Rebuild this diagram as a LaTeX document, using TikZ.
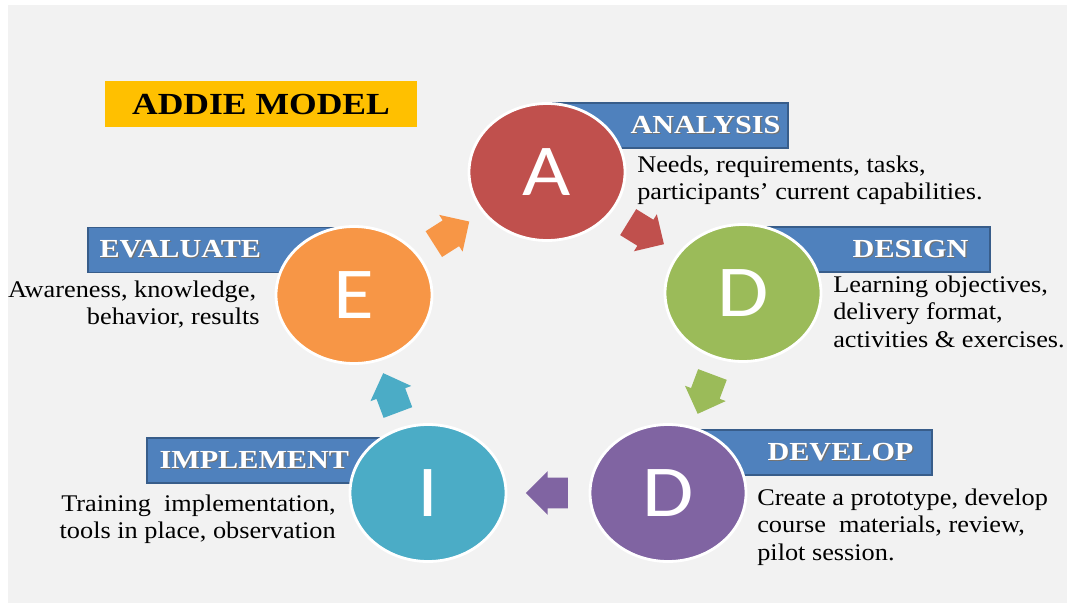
\documentclass[tikz,border=0pt]{standalone}
\usepackage{fontspec}
\setmainfont{Liberation Serif}[FakeStretch=1.10, BoldFeatures={FakeStretch=1.16}]
\newfontfamily\letterfont{Carlito}[FakeStretch=1.14]
\usetikzlibrary{shapes.geometric,shapes.arrows,calc}

\definecolor{panelgray}{HTML}{F2F2F2}
\definecolor{phaseA}{HTML}{C0504D}
\definecolor{phaseD}{HTML}{9BBB59}
\definecolor{phaseV}{HTML}{8064A2}
\definecolor{phaseI}{HTML}{4BACC6}
\definecolor{phaseE}{HTML}{F79646}
\definecolor{tagblue}{HTML}{4F81BD}
\definecolor{tagedge}{HTML}{385D8A}
\definecolor{titlegold}{HTML}{FFC000}

\def\px{*0.025cm}
\newcommand\shadowed[1]{\leavevmode\rlap{\kern0.8pt\raisebox{-0.8pt}{\color{black!55}#1}}#1}

\tikzset{
    phase/.style={ellipse, draw=white, line width=2pt, minimum width=156\px, minimum height=137\px,
        inner sep=0pt, text=white, font=\letterfont\fontsize{52}{52}\selectfont},
    tagbox/.style={fill=tagblue, draw=tagedge, line width=1pt, minimum height=45\px, inner sep=0pt},
    tagtext/.style={text=white, inner sep=0pt, font=\bfseries\fontsize{18.5}{20}\selectfont},
    desc/.style={inner sep=0pt, font=\fontsize{17}{19.6}\selectfont},
    flowarrow/.style={single arrow, minimum height=42\px, inner xsep=0pt, inner ysep=15\px,
        single arrow head extend=6.5\px, single arrow head indent=0pt}
}

\begin{document}
\begin{tikzpicture}[x=0.025cm, y=-0.025cm]
        % Sfondo
        \useasboundingbox (0,0) rectangle (1071,605);
        \fill[white] (0,0) rectangle (1071,605);
        \fill[panelgray] (8,5) rectangle (1067,603);

        % Titolo
        \node[fill=titlegold, minimum width=312\px, minimum height=46\px, inner sep=0pt,
            font=\bfseries\fontsize{21.8}{26}\selectfont] (title) at (261,104) {ADDIE MODEL};

        % Riquadri blu delle fasi (dietro ai cerchi)
        \node[tagbox, minimum width=241\px] (boxanl) at (667.5,125.5) {};
        \node[tagbox, minimum width=247\px] (boxdsg) at (866.5,249.5) {};
        \node[tagbox, minimum width=264\px] (boxdev) at (800,452.5) {};
        \node[tagbox, minimum width=281\px] (boximp) at (287.5,460.5) {};
        \node[tagbox, minimum width=266\px] (boxevl) at (221,250) {};

        % Cerchi delle fasi
        \node[phase, fill=phaseA] (anl) at (547,172) {A};
        \node[phase, fill=phaseD] (dsg) at (743,293) {D};
        \node[phase, fill=phaseV] (dev) at (668,493) {D};
        \node[phase, fill=phaseI] (imp) at (428,493) {I};
        \node[phase, fill=phaseE] (evl) at (354,295) {E};

        % Nomi delle fasi
        \node[tagtext, anchor=east] (tanl) at ([xshift=-8\px]boxanl.east) {\shadowed{ANALYSIS}};
        \node[tagtext, anchor=east] (tdsg) at ([xshift=-22\px]boxdsg.east) {\shadowed{DESIGN}};
        \node[tagtext, anchor=east] (tdev) at ([xshift=-19\px]boxdev.east) {\shadowed{DEVELOP}};
        \node[tagtext, anchor=west] (timp) at ([xshift=13\px]boximp.west) {\shadowed{IMPLEMENT}};
        \node[tagtext, anchor=west] (tevl) at ([xshift=12\px]boxevl.west) {\shadowed{EVALUATE}};

        % Descrizioni
        \node[desc, anchor=north west, align=left] (danl) at (637,155.4)
            {Needs, requirements, tasks,\\participants’ current capabilities.};
        \node[desc, anchor=north west, align=left] (ddsg) at (833,275.4)
            {Learning objectives,\\delivery format,\\activities \& exercises.};
        \node[desc, anchor=north west, align=left] (ddev) at (757,488.4)
            {Create a prototype, develop\\course\ \ materials, review,\\pilot session.};
        \node[desc, anchor=north east, align=right] (dimp) at (336,494.4)
            {Training\ \ implementation,\\tools in place, observation};
        \node[desc, anchor=north east, align=right] (devl) at (260,280.4)
            {Awareness, knowledge,\hspace*{.15em}\\behavior, results};

        % Frecce tra le fasi
        \foreach \src/\dst/\col in {evl/anl/phaseE, anl/dsg/phaseA, dsg/dev/phaseD, dev/imp/phaseV, imp/evl/phaseI} {
            \path let \p1 = ($(\dst)-(\src)$), \n1 = {atan2(\y1,\x1)} in
                node[flowarrow, fill=\col, rotate=\n1] (arr-\src) at ($(\src)!0.5!(\dst)!0.16cm!(\src)$) {};
        }
\end{tikzpicture}
\end{document}
